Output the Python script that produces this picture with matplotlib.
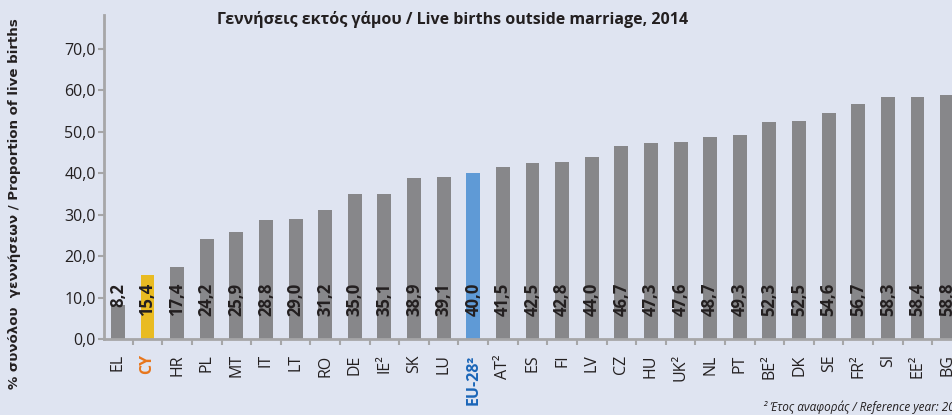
import matplotlib
matplotlib.use("Agg")
import matplotlib.pyplot as plt
import numpy as np

plt.rcParams['font.family'] = ['Open Sans', 'DejaVu Sans']

countries = ["EL", "CY", "HR", "PL", "MT", "IT", "LT", "RO", "DE", "IE²", "SK", "LU",
             "EU-28²", "AT²", "ES", "FI", "LV", "CZ", "HU", "UK²", "NL", "PT", "BE²",
             "DK", "SE", "FR²", "SI", "EE²", "BG"]
values = [8.2, 15.4, 17.4, 24.2, 25.9, 28.8, 29.0, 31.2, 35.0, 35.1, 38.9, 39.1,
          40.0, 41.5, 42.5, 42.8, 44.0, 46.7, 47.3, 47.6, 48.7, 49.3, 52.3,
          52.5, 54.6, 56.7, 58.3, 58.4, 58.8]
yticks = [0, 10, 20, 30, 40, 50, 60, 70]

BG = "#dfe4f1"
GRAY = "#87878a"
YELLOW = "#e9bb22"
BLUE = "#5f9ad6"
ORANGE = "#e8761c"
DBLUE = "#1b66b8"
TXT = "#231f20"

fig = plt.figure(figsize=(9.53, 4.15), dpi=100)
fig.patch.set_facecolor(BG)
ax = fig.add_axes([104/953, (415-339)/415, 1 - 104/953, (339-15)/415])
ax.set_facecolor(BG)

x = np.arange(len(countries))
colors = []
for c in countries:
    if c == "CY":
        colors.append(YELLOW)
    elif c.startswith("EU-28"):
        colors.append(BLUE)
    else:
        colors.append(GRAY)
ax.bar(x, values, width=0.47, color=colors, zorder=2)

for xi, v in zip(x, values):
    ax.text(xi, 13.6, f"{v:.1f}".replace(".", ","), rotation=90, ha="center", va="top",
            fontsize=12, fontweight="bold", color=TXT, zorder=3)

ax.set_xlim(-0.47, 28.2)
ax.set_ylim(0, 78.2)
ax.set_yticks(yticks)
ax.set_yticklabels([f"{t:.1f}".replace(".", ",") for t in yticks], fontsize=11.5, color=TXT)
ax.set_xticks(x)
ax.set_xticklabels(countries, rotation=90, fontsize=11.5, color=TXT)
ax.tick_params(axis="x", length=0, pad=11)
ax.set_xticks(x[:-1] + 0.5, minor=True)
ax.tick_params(axis="x", which="minor", length=4, width=1.5, color="#a6a6a8")
ax.tick_params(axis="y", length=4, width=1.5, color="#a6a6a8", pad=2)

for lbl in ax.get_xticklabels():
    t = lbl.get_text()
    if t == "CY":
        lbl.set_color(ORANGE); lbl.set_fontweight("bold")
    elif t.startswith("EU-28"):
        lbl.set_color(DBLUE); lbl.set_fontweight("bold")

for s in ["top", "right"]:
    ax.spines[s].set_visible(False)
for s in ["left", "bottom"]:
    ax.spines[s].set_color("#a6a6a8")
    ax.spines[s].set_linewidth(2)

fig.text(453/953, 1 - 20/415, "Γεννήσεις εκτός γάμου / Live births outside marriage, 2014",
         ha="center", va="center", fontsize=11.5, fontweight="bold", color=TXT)
fig.text(15/953, 1 - 204/415, "% συνόλου  γεννήσεων / Proportion of live births",
         rotation=90, ha="center", va="center", fontsize=9.6, fontweight="bold",
         color=TXT, family="DejaVu Sans")
fig.text(763/953, 1 - 407/415, "² Έτος αναφοράς / Reference year: 2013",
         ha="left", va="center", fontsize=8.5, style="italic", color=TXT)

fig.savefig("out.png", dpi=100, facecolor=BG)
